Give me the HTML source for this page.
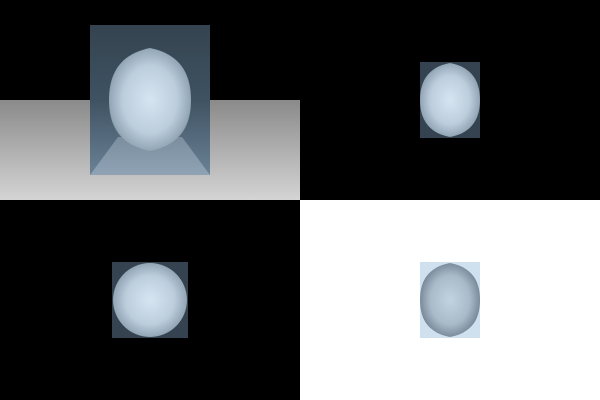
<!DOCTYPE html>
<html><head><meta charset="utf-8"><style>html,body{margin:0;padding:0;background:#000}svg{display:block}</style></head>
<body>
<svg width="600" height="400" viewBox="0 0 600 400">
<defs>
<linearGradient id="floor" x1="0" y1="0" x2="0" y2="1"><stop offset="0" stop-color="#8a8a8a"/><stop offset="1" stop-color="#d4d4d4"/></linearGradient>
<linearGradient id="panel" x1="0" y1="0" x2="0" y2="1"><stop offset="0" stop-color="#34434f"/><stop offset="0.5" stop-color="#3f5262"/><stop offset="1" stop-color="#6a8296"/></linearGradient>
<linearGradient id="tri" x1="0" y1="0" x2="0" y2="1"><stop offset="0" stop-color="#7a8ea0"/><stop offset="1" stop-color="#8fa3b5"/></linearGradient>
<radialGradient id="egg" cx="0.5" cy="0.5" r="0.55"><stop offset="0" stop-color="#d6e5f2"/><stop offset="0.6" stop-color="#bccddc"/><stop offset="0.9" stop-color="#93a6b6"/><stop offset="1" stop-color="#5a6b78"/></radialGradient>
<radialGradient id="egg2" cx="0.5" cy="0.5" r="0.55"><stop offset="0" stop-color="#c2d3e1"/><stop offset="0.6" stop-color="#a9bac9"/><stop offset="0.9" stop-color="#7c8e9d"/><stop offset="1" stop-color="#465663"/></radialGradient>
</defs>
<rect x="0" y="0" width="600" height="400" fill="#000"/>
<rect x="0" y="100" width="300" height="100" fill="url(#floor)"/>
<rect x="300" y="200" width="300" height="200" fill="#fff"/>
<g>
<rect x="90" y="25" width="120" height="150" fill="url(#panel)"/>
<path d="M90,175 L118,137 L182,137 L210,175 Z" fill="url(#tri)"/>
<path d="M150,48 C179,54 191,72 191,100 C191,128 179,145 150,151 C121,145 109,128 109,100 C109,72 121,54 150,48 Z" fill="url(#egg)"/>
</g>
<g>
<rect x="420" y="62" width="60" height="76" fill="#34434f"/>
<path d="M450,63 C471,67 480,80 480,100 C480,120 471,133 450,137 C429,133 420,120 420,100 C420,80 429,67 450,63 Z" fill="url(#egg)"/>
</g>
<g>
<rect x="112" y="262" width="76" height="76" fill="#34434f"/>
<circle cx="150" cy="300" r="37" fill="url(#egg)"/>
</g>
<g>
<rect x="420" y="262" width="60" height="76" fill="#cfe0ef"/>
<path d="M450,263 C471,267 480,280 480,300 C480,320 471,333 450,337 C429,333 420,320 420,300 C420,280 429,267 450,263 Z" fill="url(#egg2)"/>
</g>
</svg>
</body></html>
